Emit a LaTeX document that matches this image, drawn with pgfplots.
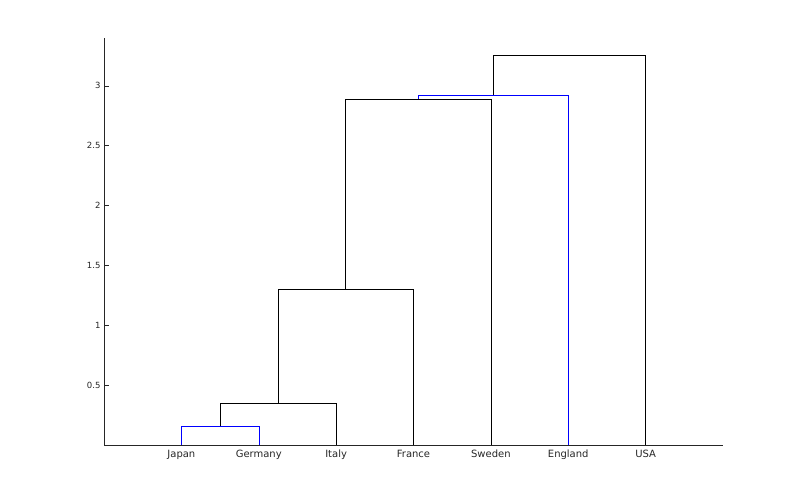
\documentclass[border=0pt]{standalone}
\usepackage{pgfplots}
\pgfplotsset{compat=1.18}
\usepackage{fontspec}
\setmainfont{DejaVu Sans}
\definecolor{txt}{HTML}{262626}
\definecolor{dblue}{RGB}{0,0,255}
\begin{document}
\begin{tikzpicture}
\useasboundingbox (0,0) rectangle (800pt,500pt);
\begin{axis}[
  at={(104pt,55pt)}, anchor=south west,
  scale only axis, width=619pt, height=407pt,
  xmin=0, xmax=8, ymin=0, ymax=3.40,
  axis x line*=bottom, axis y line*=left,
  axis line style={txt, line width=0.6pt},
  xtick={1,...,7},
  xticklabels={Japan,Germany,Italy,France,Sweden,England,USA},
  ytick={0.5,1,1.5,2,2.5,3},
  yticklabels={0.5,1,1.5,2,2.5,3},
  major x tick style={draw=none},
  major y tick style={txt, line width=0.6pt},
  tick align=inside, major tick length=5pt,
  tick label style={font=\fontsize{10}{12}\selectfont, text=txt},
  xticklabel style={text height=7.5pt, text depth=2pt, yshift=-1pt},
  yticklabel style={font=\fontsize{8.5}{10}\selectfont},
  /pgf/number format/assume math mode=true,
  clip=false,
  cycle list={{color=dblue, solid, mark=none, line width=0.7pt}},
]
\addplot coordinates {(1,0) (1,0.156) (2,0.156) (2,0)};
\addplot coordinates {(1.5,0.156) (1.5,0.349) (3,0.349) (3,0)};
\addplot coordinates {(2.25,0.349) (2.25,1.304) (4,1.304) (4,0)};
\addplot coordinates {(3.125,1.304) (3.125,2.890) (5,2.890) (5,0)};
\addplot coordinates {(4.0625,2.890) (4.0625,2.924) (6,2.924) (6,0)};
\addplot coordinates {(5.03125,2.924) (5.03125,3.26) (7,3.26) (7,0)};
\end{axis}
\end{tikzpicture}
\end{document}
